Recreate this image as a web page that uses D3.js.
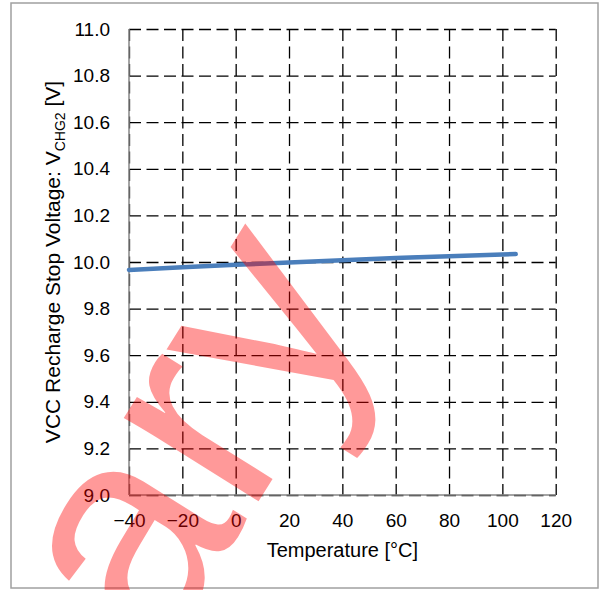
<!DOCTYPE html>
<html>
<head>
<meta charset="utf-8">
<script src="https://cdn.jsdelivr.net/npm/d3@7/dist/d3.min.js"></script>
<style>
  html, body { margin: 0; padding: 0; background: #fff; }
  svg { display: block; }
  text { font-family: "Liberation Sans", Arial, sans-serif; }
</style>
</head>
<body>
<svg id="chart" width="603" height="590"></svg>
<script>
// VCC recharge stop voltage V_CHG2 versus ambient temperature
const temperatures = [-40, -20, 0, 20, 40, 60, 80, 100, 105];
const vchg2 = [9.966, 9.977, 9.988, 9.998, 10.008, 10.017, 10.025, 10.032, 10.034];

const xTickValues = [-40, -20, 0, 20, 40, 60, 80, 100, 120];
const yTickValues = [9.0, 9.2, 9.4, 9.6, 9.8, 10.0, 10.2, 10.4, 10.6, 10.8, 11.0];

const xTitle = "Temperature [°C]";
const yTitleMain = "VCC Recharge Stop Voltage: V";
const yTitleSub = "CHG2";
const yTitleTail = " [V]";
const stampText = "Preliminary";

const svg = d3.select("#chart");
const W = 603, H = 590;
const plot = { left: 129, right: 555.7, top: 29, bottom: 495 };

const x = d3.scaleLinear().domain([-40, 120]).range([plot.left, plot.right]);
const y = d3.scaleLinear().domain([9.0, 11.0]).range([plot.bottom, plot.top]);

// white page with thin grey frame
svg.append("rect").attr("x", 0).attr("y", 0).attr("width", W).attr("height", H).attr("fill", "#fff");
svg.append("rect")
  .attr("x", 11).attr("y", 3).attr("width", 587).attr("height", 585)
  .attr("fill", "none").attr("stroke", "#a0a0a0").attr("stroke-width", 1.5);

const plotW = plot.right - plot.left;
const plotH = plot.bottom - plot.top;

// dashed grid: horizontal lines from the y axis, vertical lines hung from the top
const gridY = svg.append("g")
  .attr("transform", `translate(${plot.left},0)`)
  .call(d3.axisLeft(y).tickValues(yTickValues).tickSize(-plotW).tickFormat(""));
const gridX = svg.append("g")
  .attr("transform", `translate(0,${plot.top})`)
  .call(d3.axisTop(x).tickValues(xTickValues).tickSize(-plotH).tickFormat(""));
[gridY, gridX].forEach(g => {
  g.select(".domain").remove();
  g.selectAll(".tick line")
    .attr("stroke", "#000")
    .attr("stroke-width", 1.3)
    .attr("stroke-dasharray", "12,5.5");
});

// solid grey axis lines
svg.append("line")
  .attr("x1", plot.left).attr("x2", plot.left)
  .attr("y1", plot.top).attr("y2", plot.bottom)
  .attr("stroke", "#868686").attr("stroke-width", 1.5);
svg.append("line")
  .attr("x1", plot.left).attr("x2", plot.right)
  .attr("y1", plot.bottom).attr("y2", plot.bottom)
  .attr("stroke", "#868686").attr("stroke-width", 1.5);

// tick labels
const yAxis = svg.append("g")
  .attr("transform", `translate(${plot.left},0)`)
  .call(d3.axisLeft(y).tickValues(yTickValues).tickSize(0).tickPadding(19).tickFormat(d3.format(".1f")));
const xAxis = svg.append("g")
  .attr("transform", `translate(0,${plot.bottom})`)
  .call(d3.axisBottom(x).tickValues(xTickValues).tickSize(0).tickPadding(19).tickFormat(d3.format("d")));
[yAxis, xAxis].forEach(g => {
  g.select(".domain").remove();
  g.selectAll(".tick text")
    .attr("font-family", "'Liberation Sans', Arial, sans-serif")
    .attr("font-size", 19)
    .attr("fill", "#000");
});

// axis titles
svg.append("text")
  .attr("x", (plot.left + plot.right) / 2)
  .attr("y", 557)
  .attr("text-anchor", "middle")
  .attr("font-size", 20)
  .attr("fill", "#000")
  .text(xTitle);

const yt = svg.append("text")
  .attr("transform", `translate(60,${(plot.top + plot.bottom) / 2}) rotate(-90)`)
  .attr("text-anchor", "middle")
  .attr("font-size", 21)
  .attr("fill", "#000");
yt.append("tspan").text(yTitleMain);
yt.append("tspan").attr("font-size", 14).attr("dy", 5).text(yTitleSub);
yt.append("tspan").attr("dy", -5).text(yTitleTail);

// measured curve
const line = d3.line()
  .x((d, i) => x(temperatures[i]))
  .y(d => y(d));
svg.append("path")
  .datum(vchg2)
  .attr("d", line)
  .attr("fill", "none")
  .attr("stroke", "#4a7ebb")
  .attr("stroke-width", 4.5)
  .attr("stroke-linecap", "round")
  .attr("stroke-linejoin", "round");

// translucent red stamp over the whole chart
svg.append("defs").append("clipPath").attr("id", "pageClip")
  .append("rect").attr("x", 0).attr("y", 0).attr("width", W).attr("height", H);
const stampLayer = svg.append("g").attr("clip-path", "url(#pageClip)");
stampLayer.append("text")
  .attr("transform", "translate(380,307) rotate(-58)")
  .attr("text-anchor", "end")
  .attr("font-size", 300)
  .style("fill", "#ff0000")
  .style("fill-opacity", 0.4)
  .text(stampText);
</script>
</body>
</html>
